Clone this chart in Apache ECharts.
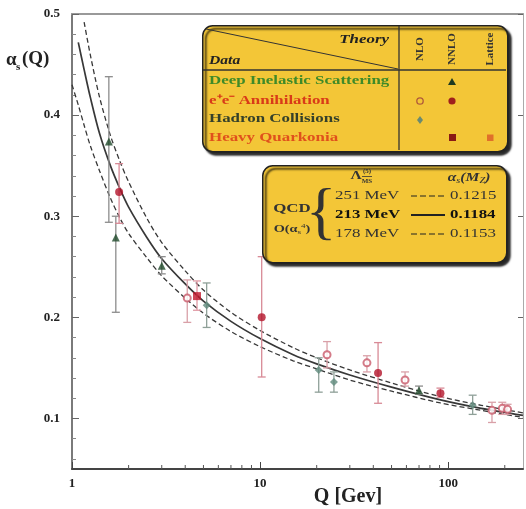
<!DOCTYPE html>
<html>
<head>
<meta charset="utf-8">
<script src="https://cdn.jsdelivr.net/npm/echarts@6/dist/echarts.min.js"></script>
<style>
html,body{margin:0;padding:0;background:#fff;}
#c{width:526px;height:509px;}
</style>
</head>
<body>
<div id="c"></div>
<script>
// ---------- data ----------
const curveQ       = [1.0, 1.08, 1.16, 1.25, 1.4, 1.6, 1.8, 2, 2.5, 3, 4, 5, 7, 10, 15, 20, 30, 50, 91, 150, 250];
const curveUpper   = [null, null, 0.492, 0.46, 0.418, 0.38, 0.354, 0.334, 0.298, 0.274, 0.246, 0.227, 0.205, 0.187, 0.170, 0.160, 0.148, 0.135, 0.1215, 0.113, 0.1055];
const curveCentral = [null, 0.472, 0.445, 0.418, 0.382, 0.350, 0.327, 0.309, 0.279, 0.258, 0.233, 0.216, 0.196, 0.179, 0.163, 0.154, 0.143, 0.131, 0.1184, 0.110, 0.103];
const curveLower   = [0.430, 0.410, 0.390, 0.370, 0.345, 0.318, 0.298, 0.283, 0.259, 0.241, 0.219, 0.204, 0.186, 0.171, 0.157, 0.149, 0.138, 0.127, 0.1153, 0.108, 0.101];

// Deep inelastic scattering (NNLO, triangles)
const disQ  = [1.57, 1.71, 3.0, 70];
const disA  = [0.374, 0.279, 0.251, 0.128];
const disLo = [0.294, 0.205, 0.243, 0.124];
const disHi = [0.438, 0.300, 0.260, 0.132];

// e+e- annihilation NNLO (filled circles)
const eeNnloQ  = [1.78, 10.2, 42.4, 91];
const eeNnloA  = [0.324, 0.200, 0.145, 0.125];
const eeNnloLo = [0.293, 0.141, 0.115, 0.121];
const eeNnloHi = [0.352, 0.260, 0.175, 0.130];

// e+e- annihilation NLO (open circles)
const eeNloQ  = [4.1, 22.7, 37, 59, 171, 194, 207];
const eeNloA  = [0.219, 0.163, 0.155, 0.138, 0.108, 0.110, 0.109];
const eeNloLo = [0.195, 0.150, 0.146, 0.132, 0.096, 0.104, 0.104];
const eeNloHi = [0.237, 0.176, 0.162, 0.146, 0.116, 0.116, 0.114];

// Hadron collisions (NLO)
const hadQ  = [5.2, 20.5, 24.7, 135];
const hadA  = [0.212, 0.148, 0.136, 0.113];
const hadLo = [0.190, 0.126, 0.126, 0.104];
const hadHi = [0.234, 0.160, 0.146, 0.123];

// Heavy quarkonia (NNLO)
const hqQ  = [4.62];
const hqA  = [0.221];
const hqLo = [0.207];
const hqHi = [0.236];

// ticks
const yMajorTicks = [0.1, 0.2, 0.3, 0.4, 0.5];
const yMinorTicks = [0.06, 0.08, 0.12, 0.14, 0.16, 0.18, 0.22, 0.24, 0.26, 0.28, 0.32, 0.34, 0.36, 0.38, 0.42, 0.44, 0.46, 0.48];
const xMinorTicks = [2, 3, 4, 5, 6, 7, 8, 9, 20, 30, 40, 50, 60, 70, 80, 90, 200];

// legend texts
const dataRows = ['Deep Inelastic Scattering', 'e\u207Ae\u207B Annihilation', 'Hadron Collisions', 'Heavy Quarkonia'];
const theoryCols = ['NLO', 'NNLO', 'Lattice'];
const lambdaVals = ['251 MeV', '213 MeV', '178 MeV'];
const alphaMZ = ['0.1215', '0.1184', '0.1153'];

// ---------- build ----------
const Y_MIN = 0.05, Y_MAX = 0.5;
const serif = 'Liberation Serif, Times New Roman, serif';
const zip = (q, a) => q.map((v, i) => [v, a[i]]);
const zipErr = (q, a, lo, hi) => q.map((v, i) => [v, a[i], lo[i], hi[i]]);

function errSeries(q, a, lo, hi, color) {
  return {
    type: 'custom', xAxisIndex: 0, yAxisIndex: 0, z: 3, silent: true,
    data: zipErr(q, a, lo, hi),
    encode: { x: 0, y: [1, 2, 3] },
    renderItem: function (params, api) {
      const x = api.value(0);
      const pLo = api.coord([x, api.value(2)]);
      const pHi = api.coord([x, api.value(3)]);
      const cw = 4;
      const st = { stroke: color, lineWidth: 1.3 };
      return { type: 'group', children: [
        { type: 'line', shape: { x1: pLo[0], y1: pLo[1], x2: pHi[0], y2: pHi[1] }, style: st },
        { type: 'line', shape: { x1: pLo[0] - cw, y1: pLo[1], x2: pLo[0] + cw, y2: pLo[1] }, style: st },
        { type: 'line', shape: { x1: pHi[0] - cw, y1: pHi[1], x2: pHi[0] + cw, y2: pHi[1] }, style: st }
      ]};
    }
  };
}
function markSeries(q, a, symbol, size, itemStyle) {
  return { type: 'scatter', xAxisIndex: 0, yAxisIndex: 0, z: 4, symbol: symbol, symbolSize: size,
    data: zip(q, a), itemStyle: itemStyle, silent: true };
}
function curve(vals, type, width) {
  return { type: 'line', xAxisIndex: 0, yAxisIndex: 0, z: 2, smooth: 0.3, symbol: 'none', connectNulls: false,
    data: zip(curveQ, vals), lineStyle: { color: '#383838', width: width, type: type }, silent: true };
}

const series = [
  curve(curveUpper, [5, 3], 1.3),
  curve(curveCentral, 'solid', 1.7),
  curve(curveLower, [5, 3], 1.3),
  errSeries(disQ, disA, disLo, disHi, '#8c8c8c'),
  errSeries(eeNnloQ, eeNnloA, eeNnloLo, eeNnloHi, '#d88a96'),
  errSeries(eeNloQ, eeNloA, eeNloLo, eeNloHi, '#d9a0a8'),
  errSeries(hadQ, hadA, hadLo, hadHi, '#8fa098'),
  errSeries(hqQ, hqA, hqLo, hqHi, '#e09aa5'),
  markSeries(disQ, disA, 'triangle', 8, { color: '#1f4a2a' }),
  markSeries(eeNnloQ, eeNnloA, 'circle', 8, { color: '#b3142b' }),
  markSeries(eeNloQ, eeNloA, 'emptyCircle', 7, { color: '#c95a6a', borderWidth: 1.5 }),
  markSeries(hadQ, hadA, 'diamond', 8, { color: '#5f8a7c' }),
  markSeries(hqQ, hqA, 'rect', 8, { color: '#c0182c' }),
  {
    type: 'custom', xAxisIndex: 0, yAxisIndex: 0, z: 5, silent: true,
    data: xMinorTicks.map(v => [v]),
    encode: { x: 0 },
    renderItem: function (params, api) {
      const p = api.coord([api.value(0), Y_MIN]);
      return { type: 'line', shape: { x1: p[0], y1: p[1], x2: p[0], y2: p[1] - 4 }, style: { stroke: '#555', lineWidth: 1 } };
    }
  }
];

// ---------- legend graphics ----------
const yellow = '#f3c637';
const boxShadow = { shadowColor: 'rgba(0,0,0,0.85)', shadowOffsetX: 3, shadowOffsetY: 3, shadowBlur: 2 };
const rowColors = ['#3f8a28', '#d93a18', '#35402a', '#e0501c'];
const SX = 1.3; // horizontal stretch of the reference lettering
function txt(t, x, y, font, fill, align, extra) {
  return Object.assign({ type: 'text', z: 102, x: x, y: y, scaleX: SX,
    style: { text: t, x: 0, y: 0, align: align || 'left', verticalAlign: 'middle', font: font, fill: fill } }, extra || {});
}
const g = [];
// box 1
g.push({ type: 'rect', left: 202, top: 25, z: 100, shape: { width: 305, height: 126, r: 10 },
  style: Object.assign({ fill: yellow, stroke: '#222', lineWidth: 1.5 }, boxShadow) });
g.push({ type: 'line', z: 101, shape: { x1: 206, y1: 29, x2: 398, y2: 69 }, style: { stroke: '#333', lineWidth: 1 } });
g.push({ type: 'line', z: 101, shape: { x1: 203, y1: 70, x2: 506, y2: 70 }, style: { stroke: '#333', lineWidth: 1.3 } });
g.push({ type: 'line', z: 101, shape: { x1: 399, y1: 26, x2: 399, y2: 150 }, style: { stroke: '#333', lineWidth: 1.3 } });
g.push(txt('Theory', 389, 40, 'italic bold 13px ' + serif, '#222', 'right'));
g.push(txt('Data', 209, 61, 'italic bold 12px ' + serif, '#222', 'left'));
const colX = [420, 452, 490];
theoryCols.forEach((t, i) => {
  g.push({ type: 'text', z: 102, x: colX[i], y: 49, rotation: Math.PI / 2,
    style: { text: t, x: 0, y: 0, align: 'center', verticalAlign: 'middle', font: 'bold 11px ' + serif, fill: '#333' } });
});
const rowY = [81, 101, 119, 138];
dataRows.forEach((t, i) => {
  g.push(txt(t, 209, rowY[i], 'bold 13px ' + serif, rowColors[i], 'left'));
});
// legend symbols
g.push({ type: 'polygon', z: 102, shape: { points: [[452, 78], [456, 85], [448, 85]] }, style: { fill: '#1f3a20' } });
g.push({ type: 'circle', z: 102, shape: { cx: 420, cy: 101, r: 3.2 }, style: { fill: 'none', stroke: '#b05a3a', lineWidth: 1.3 } });
g.push({ type: 'circle', z: 102, shape: { cx: 452, cy: 101, r: 3.6 }, style: { fill: '#a0201c' } });
g.push({ type: 'polygon', z: 102, shape: { points: [[420, 116], [423, 120], [420, 124], [417, 120]] }, style: { fill: '#6a8a70' } });
g.push({ type: 'rect', z: 102, shape: { x: 449, y: 134, width: 7, height: 7 }, style: { fill: '#8a1a14' } });
g.push({ type: 'rect', z: 102, shape: { x: 487, y: 134.5, width: 6.5, height: 6.5 }, style: { fill: '#e0702a' } });

// box 2
g.push({ type: 'rect', left: 262, top: 165, z: 100, shape: { width: 244, height: 97, r: 10 },
  style: Object.assign({ fill: yellow, stroke: '#222', lineWidth: 1.5 }, boxShadow) });
g.push(txt('\u039B', 356, 176, 'bold 12px ' + serif, '#333', 'center'));
g.push({ type: 'text', z: 102, style: { text: '(5)', x: 367, y: 171, align: 'center', verticalAlign: 'middle', font: 'bold 7px ' + serif, fill: '#333' } });
g.push({ type: 'text', z: 102, style: { text: 'MS', x: 367, y: 181, align: 'center', verticalAlign: 'middle', font: 'bold 7px ' + serif, fill: '#333' } });
g.push({ type: 'line', z: 102, shape: { x1: 362, y1: 176.5, x2: 372, y2: 176.5 }, style: { stroke: '#333', lineWidth: 0.8 } });
g.push({ type: 'text', z: 102, x: 469, y: 178, scaleX: SX, style: { text: '{a|\u03B1}{s|s}{a|(M}{s|Z}{a|)}', x: 0, y: 0, align: 'center', verticalAlign: 'middle',
  rich: { a: { font: 'italic bold 12px ' + serif, fill: '#333' }, s: { font: 'italic 8px ' + serif, fill: '#333', padding: [6, 0, 0, 0] } } } });
g.push(txt('QCD', 292, 209, 'bold 13px ' + serif, '#333', 'center'));
g.push({ type: 'text', z: 102, x: 292, y: 229, scaleX: SX, style: { text: '{a|O(\u03B1}{s|s}{t|4}{a|)}', x: 0, y: 0, align: 'center', verticalAlign: 'middle',
  rich: { a: { font: 'bold 11px ' + serif, fill: '#333' }, s: { font: '7px ' + serif, fill: '#333', padding: [6, 0, 0, 0] }, t: { font: '7px ' + serif, fill: '#333', padding: [0, 0, 6, 0] } } } });
g.push({ type: 'text', z: 102, style: { text: '{', x: 321, y: 215, align: 'center', verticalAlign: 'middle',
  font: '64px ' + serif, fill: '#333' } });
const l2Y = [196, 215, 234];
lambdaVals.forEach((t, i) => {
  const bold = i === 1;
  g.push(txt(t, 335, l2Y[i], (bold ? 'bold ' : '') + '13px ' + serif, bold ? '#111' : '#333', 'left'));
  g.push({ type: 'line', z: 102, shape: { x1: 411, y1: l2Y[i], x2: 445, y2: l2Y[i] },
    style: { stroke: '#222', lineWidth: bold ? 2.2 : 1.2, lineDash: bold ? null : [6, 3] } });
  g.push(txt(alphaMZ[i], 450, l2Y[i], (bold ? 'bold ' : '') + '13px ' + serif, bold ? '#111' : '#333', 'left'));
});

// axis titles
g.push({ type: 'text', z: 50, style: { text: '\u03B1', x: 6, y: 60, align: 'left', verticalAlign: 'middle', font: 'bold 19px ' + serif, fill: '#222' } });
g.push({ type: 'text', z: 50, style: { text: 's', x: 16, y: 67, align: 'left', verticalAlign: 'middle', font: 'bold 11px ' + serif, fill: '#222' } });
g.push({ type: 'text', z: 50, style: { text: '(Q)', x: 22, y: 59, align: 'left', verticalAlign: 'middle', font: 'bold 19px ' + serif, fill: '#222' } });
g.push({ type: 'text', z: 50, style: { text: 'Q [Gev]', x: 348, y: 497, align: 'center', verticalAlign: 'middle', font: 'bold 20px ' + serif, fill: '#222' } });

const chart = echarts.init(document.getElementById('c'), null, { renderer: 'canvas' });
chart.setOption({
  animation: false,
  backgroundColor: '#ffffff',
  grid: { left: 72, right: 3, top: 14, bottom: 40, containLabel: false, outerBoundsMode: 'none' },
  xAxis: [
    { type: 'log', logBase: 10, min: 1, max: 250, position: 'bottom',
      axisLine: { lineStyle: { color: '#444', width: 2 } },
      axisTick: { inside: true, length: 7, lineStyle: { color: '#444', width: 1 } },
      axisLabel: { showMaxLabel: false, margin: 8, color: '#222', fontFamily: serif, fontWeight: 'bold', fontSize: 13 },
      splitLine: { show: false } },
    { type: 'log', logBase: 10, min: 1, max: 250, position: 'top',
      axisLine: { lineStyle: { color: '#999', width: 2 } },
      axisTick: { show: false }, axisLabel: { show: false }, splitLine: { show: false } }
  ],
  yAxis: [
    { type: 'value', min: Y_MIN, max: Y_MAX, position: 'left',
      axisLine: { show: true, lineStyle: { color: '#7a7a7a', width: 2 } },
      axisTick: { inside: true, length: 7, customValues: yMajorTicks, lineStyle: { color: '#666' } },
      axisLabel: { customValues: yMajorTicks, formatter: v => v.toFixed(1), margin: 12,
        color: '#222', fontFamily: serif, fontWeight: 'bold', fontSize: 13 },
      splitLine: { show: false } },
    { type: 'value', min: Y_MIN, max: Y_MAX, position: 'left',
      axisLine: { show: false },
      axisTick: { inside: true, length: 4, customValues: yMinorTicks, lineStyle: { color: '#888' } },
      axisLabel: { show: false }, splitLine: { show: false } },
    { type: 'value', min: Y_MIN, max: Y_MAX, position: 'right',
      axisLine: { show: true, lineStyle: { color: '#aaa', width: 1 } },
      axisTick: { inside: true, length: 5, customValues: yMajorTicks, lineStyle: { color: '#666' } },
      axisLabel: { show: false }, splitLine: { show: false } }
  ],
  series: series,
  graphic: g
});
</script>
</body>
</html>
